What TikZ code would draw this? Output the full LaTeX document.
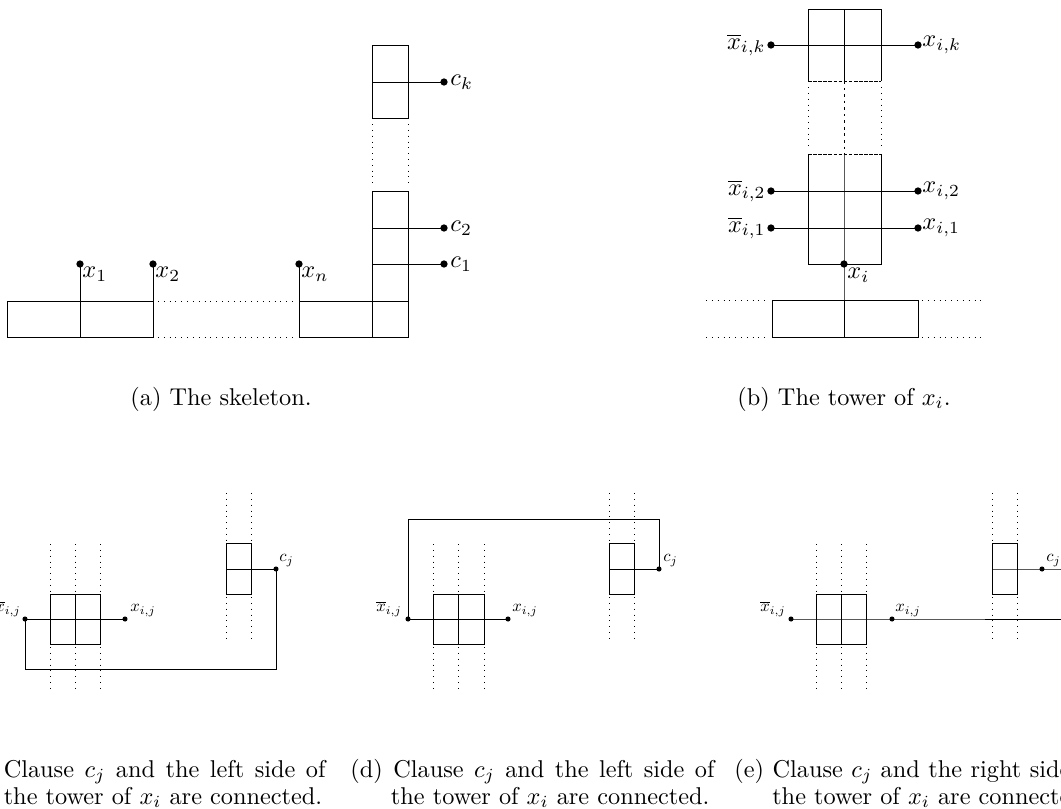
\documentclass[tikz,border=0pt]{standalone}
\begin{document}
\begin{tikzpicture}[x=0.4115pt,y=-0.4115pt,line width=0.4pt,
  dot/.style={circle,fill,inner sep=0pt,minimum size=3pt},
  sdot/.style={circle,fill,inner sep=0pt,minimum size=2.1pt},
  lbl/.style={inner sep=0pt},
  slbl/.style={inner sep=0pt,scale=0.685},
  fine/.style={dash pattern=on 1.5pt off 0.6pt},
  middash/.style={dash pattern=on 1.1pt off 1.6pt},
  thin3/.style={line width=0.4pt},
  capline/.style={inner sep=0pt,anchor=base west}]
\useasboundingbox (0,0) rectangle (1061,808);
\clip (0,0) rectangle (1061,808);

% ---------------- (a) skeleton ----------------
\node[dot] (x1) at (80,264) {};
\node[dot] (x2) at (153,264) {};
\node[dot] (xn) at (299,264) {};
\node[dot] (c1) at (444,264) {};
\node[dot] (c2) at (444,228) {};
\node[dot] (ck) at (444,82) {};
\draw (7,301) rectangle (153,337);
\draw (x1.center) -- (80,337);
\draw (x2.center) -- (153,301);
\draw[fine] (153,301) -- (153,337);
\draw[dotted] (158,301) -- (297,301) (158,337) -- (297,337);
\draw (299,301) rectangle (408,337);
\draw (xn.center) -- (299,301);
\draw (372,191) rectangle (408,337);
\draw (372,228) -- (c2.center);
\draw (372,264) -- (c1.center);
\draw (372,301) -- (408,301);
\draw (372,45) rectangle (408,118);
\draw (372,82) -- (ck.center);
\draw[dotted] (372,124) -- (372,188) (408,124) -- (408,188);
\node[lbl,anchor=north west] (lx1) at (82,266.5) {$x_1$};
\node[lbl,anchor=north west] (lx2) at (155,266.5) {$x_2$};
\node[lbl,anchor=north west] (lxn) at (301,266.5) {$x_n$};
\node[lbl,anchor=west] (lc1) at (450,264) {$c_1$};
\node[lbl,anchor=west] (lc2) at (450,228) {$c_2$};
\node[lbl,anchor=west] (lck) at (450,82) {$c_k$};

% ---------------- (b) tower ----------------
\node[dot] (nk) at (771,45) {};
\node[dot] (pk) at (918,45) {};
\node[dot] (n2) at (771,191) {};
\node[dot] (p2) at (918,191) {};
\node[dot] (n1) at (771,228) {};
\node[dot] (p1) at (918,228) {};
\node[dot] (xi) at (844,264) {};
\draw (808,81) -- (808,9) -- (881,9) -- (881,81);
\draw[fine] (808,81) -- (881,81);
\draw (844,9) -- (844,81);
\draw[middash] (844,81) -- (844,154);
\draw[dotted] (808,87) -- (808,150) (881,87) -- (881,150);
\draw[fine] (808,154) -- (881,154);
\draw (808,154) -- (808,264) -- (881,264) -- (881,154);
\draw (844,154) -- (xi.center) -- (844,337);
\draw (nk.center) -- (pk.center);
\draw (n2.center) -- (p2.center);
\draw (n1.center) -- (p1.center);
\draw (772,300) rectangle (918,337);
\draw[dotted] (706,300) -- (768,300) (706,337) -- (768,337)
              (922,300) -- (984,300) (922,337) -- (984,337);
\node[lbl,anchor=east] (lnk) at (766,45) {$\overline{x}_{i,k}$};
\node[lbl,anchor=west] (lpk) at (922,45) {$x_{i,k}$};
\node[lbl,anchor=east] (ln2) at (766,191) {$\overline{x}_{i,2}$};
\node[lbl,anchor=west] (lp2) at (922,191) {$x_{i,2}$};
\node[lbl,anchor=east] (ln1) at (766,228) {$\overline{x}_{i,1}$};
\node[lbl,anchor=west] (lp1) at (922,228) {$x_{i,1}$};
\node[lbl,anchor=north west] (lxi) at (847,268) {$x_i$};

% ---------------- (c) ----------------
\begin{scope}[thin3]
\node[sdot] (cn) at (25,619) {};
\node[sdot] (cp) at (125,619) {};
\node[sdot] (ccj) at (276,569) {};
\draw (50,594) rectangle (100,644);
\draw (75,594) -- (75,644);
\draw (cn.center) -- (cp.center);
\draw[dotted] (50,544) -- (50,592) (75,544) -- (75,592) (100,544) -- (100,592)
              (50,647) -- (50,690) (75,647) -- (75,690) (100,647) -- (100,690);
\draw (226,543) rectangle (251,594);
\draw (226,569) -- (ccj.center);
\draw[dotted] (226,493) -- (226,541) (251,493) -- (251,541)
              (226,597) -- (226,639) (251,597) -- (251,639);
\draw (cn.center) -- (25,669) -- (276,669) -- (ccj.center);
\end{scope}
\node[slbl,anchor=south east] (lcn) at (21,617) {$\overline{x}_{i,j}$};
\node[slbl,anchor=south west] (lcp) at (130,617) {$x_{i,j}$};
\node[slbl,anchor=south west] (lccj) at (279,567) {$c_j$};

% ---------------- (d) ----------------
\begin{scope}[thin3]
\node[sdot] (dn) at (408,619) {};
\node[sdot] (dp) at (508,619) {};
\node[sdot] (dcj) at (659,569) {};
\draw (433,594) rectangle (484,644);
\draw (458,594) -- (458,644);
\draw (dn.center) -- (dp.center);
\draw[dotted] (433,544) -- (433,592) (458,544) -- (458,592) (484,544) -- (484,592)
              (433,647) -- (433,690) (458,647) -- (458,690) (484,647) -- (484,690);
\draw (609,543) rectangle (634,594);
\draw (609,569) -- (dcj.center);
\draw[dotted] (609,493) -- (609,541) (634,493) -- (634,541)
              (609,597) -- (609,639) (634,597) -- (634,639);
\draw (dn.center) -- (408,519) -- (659,519) -- (dcj.center);
\end{scope}
\node[slbl,anchor=south east] (ldn) at (402,617) {$\overline{x}_{i,j}$};
\node[slbl,anchor=south west] (ldp) at (512,617) {$x_{i,j}$};
\node[slbl,anchor=south west] (ldcj) at (663,567) {$c_j$};

% ---------------- (e) ----------------
\begin{scope}[thin3]
\node[sdot] (en) at (791,619) {};
\node[sdot] (ep) at (892,619) {};
\node[sdot] (ecj) at (1042,569) {};
\coordinate (eout1) at (1080,619);
\coordinate (eout2) at (1080,569);
\draw (816,594) rectangle (866,644);
\draw (841,594) -- (841,644);
\draw (en.center) -- (ep.center) -- (eout1);
\draw[dotted] (816,544) -- (816,592) (841,544) -- (841,592) (866,544) -- (866,592)
              (816,647) -- (816,690) (841,647) -- (841,690) (866,647) -- (866,690);
\draw (992,543) rectangle (1017,594);
\draw (992,569) -- (ecj.center) -- (eout2);
\draw[dotted] (992,493) -- (992,541) (1017,493) -- (1017,541)
              (992,597) -- (992,639) (1017,597) -- (1017,639);
\end{scope}
\node[slbl,anchor=south east] (len) at (786,617) {$\overline{x}_{i,j}$};
\node[slbl,anchor=south west] (lep) at (895,617) {$x_{i,j}$};
\node[slbl,anchor=south west] (lecj) at (1046,567) {$c_j$};

% ---------------- captions ----------------
\node[inner sep=0pt,anchor=base] (capa) at (221,405) {(a) The skeleton.};
\node[inner sep=0pt,anchor=base] (capb) at (844,405) {(b) The tower of $x_i$.};
\node[capline] (capc1) at (3.3,777) {\hbox to 132.4pt{Clause $c_j$ and the left side of}};
\node[capline] (capc2) at (3.3,804) {the tower of $x_i$ are connected.};
\node[capline] (capd1) at (350,777) {\hbox to 149.8pt{(d) Clause $c_j$ and the left side of}};
\node[capline] (capd2) at (390.5,804) {the tower of $x_i$ are connected.};
\node[capline] (cape1) at (734,777) {\hbox to 149.8pt{(e) Clause $c_j$ and the right side of}};
\node[capline] (cape2) at (771.8,804) {the tower of $x_i$ are connected.};
\end{tikzpicture}
\end{document}
